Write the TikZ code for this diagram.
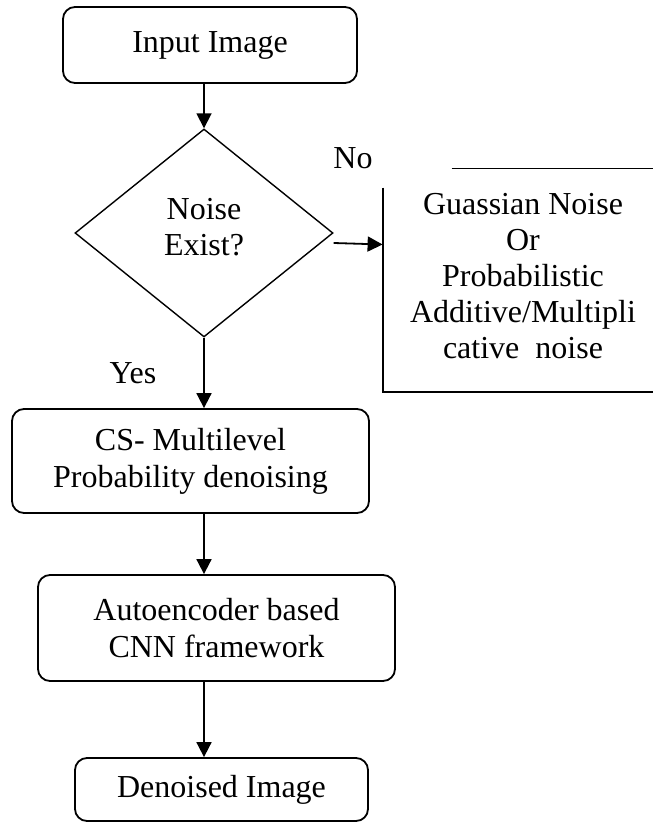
\documentclass[tikz,border=0pt]{standalone}
\usepackage{fontspec}
\setmainfont{Liberation Serif}
\usetikzlibrary{arrows.meta,positioning,shapes.geometric}

\begin{document}
\begin{tikzpicture}[x=0.5pt, y=-0.5pt,
    fstep/.style={draw, line width=0.9pt, rounded corners=6pt, align=center, inner sep=0pt, font=\fontsize{16}{18.5}\selectfont},
    fdecide/.style={draw, diamond, line width=0.7pt, inner sep=0pt, minimum width=129pt, minimum height=104pt},
    flabel/.style={inner sep=0pt, align=center, font=\fontsize{16}{18}\selectfont},
    farrow/.style={-{Triangle[length=7.5pt,width=7.5pt]}, line width=0.9pt}
  ]
    \useasboundingbox (0,0) rectangle (653,822);

    \node[fstep, minimum width=147pt, minimum height=38pt] (input) at (210,45) {Input Image};
    \node[fdecide] (noise) at (204,233) {};
    \node[flabel] (ask) at (204,227) {Noise\\Exist?};
    \node[inner sep=0pt, minimum width=135pt, minimum height=111.5pt] (frame) at (518,280.5) {};
    \node[flabel] (kind) at (523,276) {Guassian Noise\\Or\\Probabilistic\\Additive/Multipli\\cative~ noise};
    \node[fstep, minimum width=178.5pt, minimum height=52pt] (cs) at (190.5,461) {CS- Multilevel\\Probability denoising};
    \node[fstep, minimum width=178.5pt, minimum height=53pt] (auto) at (216.5,628) {Autoencoder based\\CNN framework};
    \node[fstep, minimum width=146.5pt, minimum height=31.5pt] (out) at (221.5,789.5) {Denoised Image};
    \node[flabel] (no) at (353,158) {No};
    \node[flabel] (yes) at (133,373) {Yes};

    % open frame round the noise types
    \draw[line width=0.9pt] ([yshift=-9.5pt]frame.north west) -- (frame.south west) -- (frame.south east);
    \draw[line width=0.9pt] ([xshift=34.5pt]frame.north west) -- (frame.north east);

    \draw[farrow] (noise.north |- input.south) -- (noise.north);
    \draw[farrow] ([yshift=-5pt]noise.east) -- ([yshift=18pt]frame.west);
    \draw[farrow] (noise.south) -- (noise.south |- cs.north);
    \draw[farrow] (noise.south |- cs.south) -- (noise.south |- auto.north);
    \draw[farrow] (noise.south |- auto.south) -- (noise.south |- out.north);
\end{tikzpicture}
\end{document}
